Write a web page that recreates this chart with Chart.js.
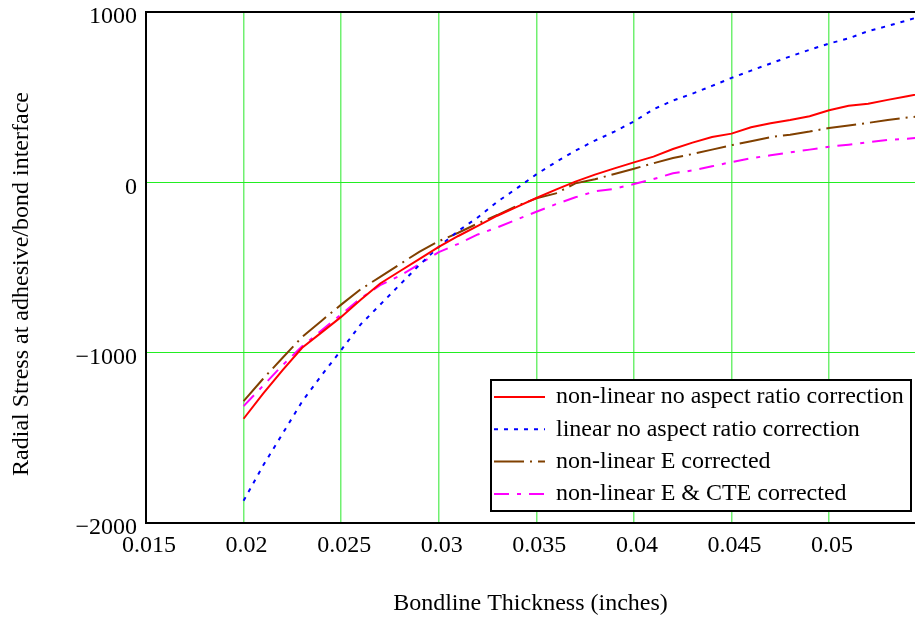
<!DOCTYPE html>
<html>
<head>
<meta charset="utf-8">
<script src="https://cdn.jsdelivr.net/npm/chart.js@4/dist/chart.umd.min.js"></script>
<style>
  html, body { margin: 0; padding: 0; background: #fff; }
  canvas { display: block; }
</style>
</head>
<body>
<canvas id="c" width="915" height="618"></canvas>
<script>
// ---- data ----
const thickness = [0.020,0.021,0.022,0.023,0.024,0.025,0.026,0.027,0.028,0.029,0.030,
                   0.031,0.032,0.033,0.034,0.035,0.036,0.037,0.038,0.039,0.040,
                   0.041,0.042,0.043,0.044,0.045,0.046,0.047,0.048,0.049,0.050,0.051,0.052,0.053,0.054,0.055];
const nonLinearNoCorr = [-1388,-1241,-1103,-971,-881,-790,-690,-594,-522,-451,-379,
                         -315,-256,-196,-144,-92,-43,4,45,82,117,
                         151,196,233,266,286,323,347,366,388,423,449,462,484,506,528];
const linearNoCorr = [-1869,-1663,-1475,-1287,-1132,-985,-834,-718,-602,-486,-379,
                      -285,-206,-114,-35,47,119,186,245,298,357,
                      429,480,521,566,613,656,698,739,778,815,845,888,918,951,985];
const nonLinearE = [-1285,-1153,-1030,-908,-812,-718,-628,-555,-481,-408,-346,
                    -296,-241,-192,-139,-94,-65,-6,18,49,80,
                    112,143,166,192,218,241,265,280,298,319,333,349,366,380,392];
const nonLinearECTE = [-1314,-1194,-1073,-963,-869,-775,-681,-604,-549,-481,-410,
                       -361,-306,-265,-218,-173,-128,-88,-53,-38,-10,
                       19,53,70,94,119,141,159,176,192,209,221,235,249,256,268];
const seriesLabels = ["non-linear no aspect ratio correction","linear no aspect ratio correction",
                      "non-linear E corrected","non-linear E & CTE corrected"];
const xTicks = [0.015,0.02,0.025,0.03,0.035,0.04,0.045,0.05];
const xTickLabels = ["0.015","0.02","0.025","0.03","0.035","0.04","0.045","0.05"];
const yTicks = [-2000,-1000,0,1000];
const yTickLabels = ["\u22122000","\u22121000","0","1000"];
const xTitle = "Bondline Thickness (inches)";
const yTitle = "Radial Stress at adhesive/bond interface";

// ---- chart ----
const FONT = "'Liberation Serif', 'Times New Roman', serif";
const pts = arr => thickness.map((x, i) => ({x, y: arr[i]}));

const legendPlugin = {
  id: 'boxLegend',
  afterDatasetsDraw(chart) {
    const ctx = chart.ctx;
    const bx = 491, by = 380, bw = 420, bh = 131;
    ctx.save();
    ctx.fillStyle = '#ffffff';
    ctx.fillRect(bx, by, bw, bh);
    ctx.strokeStyle = '#000000';
    ctx.lineWidth = 2;
    ctx.strokeRect(bx, by, bw, bh);
    chart.data.datasets.forEach((ds, i) => {
      const y = by + 17 + i * 32.3;
      ctx.beginPath();
      ctx.setLineDash(ds.borderDash || []);
      ctx.strokeStyle = ds.borderColor;
      ctx.lineWidth = ds.borderWidth;
      ctx.moveTo(bx + 3, y);
      ctx.lineTo(bx + 54, y);
      ctx.stroke();
      ctx.setLineDash([]);
      ctx.fillStyle = '#000';
      ctx.font = '24px ' + FONT;
      ctx.textBaseline = 'middle';
      ctx.textAlign = 'left';
      ctx.fillText(ds.label, bx + 65, y);
    });
    ctx.restore();
  }
};

const yTitlePlugin = {
  id: 'yTitle',
  afterDraw(chart) {
    const ctx = chart.ctx;
    ctx.save();
    ctx.translate(22, 284);
    ctx.rotate(-Math.PI / 2);
    ctx.fillStyle = '#000';
    ctx.font = '24px ' + FONT;
    ctx.textAlign = 'center';
    ctx.textBaseline = 'middle';
    ctx.fillText(yTitle, 0, 0);
    ctx.restore();
  }
};

new Chart(document.getElementById('c'), {
  type: 'line',
  data: {
    datasets: [
      { label: seriesLabels[0], data: pts(nonLinearNoCorr), borderColor: '#ff0000', borderWidth: 2, borderDash: [] },
      { label: seriesLabels[1], data: pts(linearNoCorr), borderColor: '#0000ff', borderWidth: 2, borderDash: [4, 6] },
      { label: seriesLabels[2], data: pts(nonLinearE), borderColor: '#804000', borderWidth: 2, borderDash: [30, 6, 2, 6] },
      { label: seriesLabels[3], data: pts(nonLinearECTE), borderColor: '#ff00ff', borderWidth: 2, borderDash: [15, 8, 4, 8] }
    ]
  },
  options: {
    responsive: false,
    animation: false,
    devicePixelRatio: 1,
    layout: { padding: { top: 12, right: 0, left: 0, bottom: 0 } },
    elements: { point: { radius: 0 }, line: { tension: 0 } },
    plugins: { legend: { display: false }, tooltip: { enabled: false } },
    scales: {
      x: {
        type: 'linear',
        min: 0.015,
        max: 0.0544,
        afterBuildTicks: s => { s.ticks = xTicks.map(v => ({value: v})); },
        afterFit: s => { s.height = 95; s.paddingLeft = 0; s.paddingRight = 0; },
        ticks: {
          autoSkip: false,
          maxRotation: 0,
          padding: 8,
          labelOffset: 3,
          color: '#000',
          font: { family: FONT, size: 24 },
          callback: (v, i) => xTickLabels[i]
        },
        grid: {
          drawTicks: false,
          color: ctx => (ctx.index === 0 ? 'rgba(0,0,0,0)' : '#70f070'),
          lineWidth: 1.5
        },
        border: { display: true, color: '#000', width: 2 },
        title: { display: true, text: xTitle, color: '#000', font: { family: FONT, size: 24 }, padding: { top: 4, bottom: 0 } }
      },
      y: {
        type: 'linear',
        min: -2000,
        max: 1000,
        afterBuildTicks: s => { s.ticks = yTicks.map(v => ({value: v})); },
        afterFit: s => { s.width = 146; s.paddingTop = 0; s.paddingBottom = 0; },
        ticks: {
          padding: 9,
          labelOffset: 5,
          color: '#000',
          font: { family: FONT, size: 24 },
          callback: (v, i) => yTickLabels[i]
        },
        grid: {
          drawTicks: false,
          color: ctx => (ctx.tick && ctx.tick.value === 1000 ? '#000' : '#22ee22'),
          lineWidth: ctx => (ctx.tick && ctx.tick.value === 1000 ? 2 : 1)
        },
        border: { display: true, color: '#000', width: 2 },
        title: { display: false, text: yTitle }
      }
    }
  },
  plugins: [legendPlugin, yTitlePlugin]
});
</script>
</body>
</html>
